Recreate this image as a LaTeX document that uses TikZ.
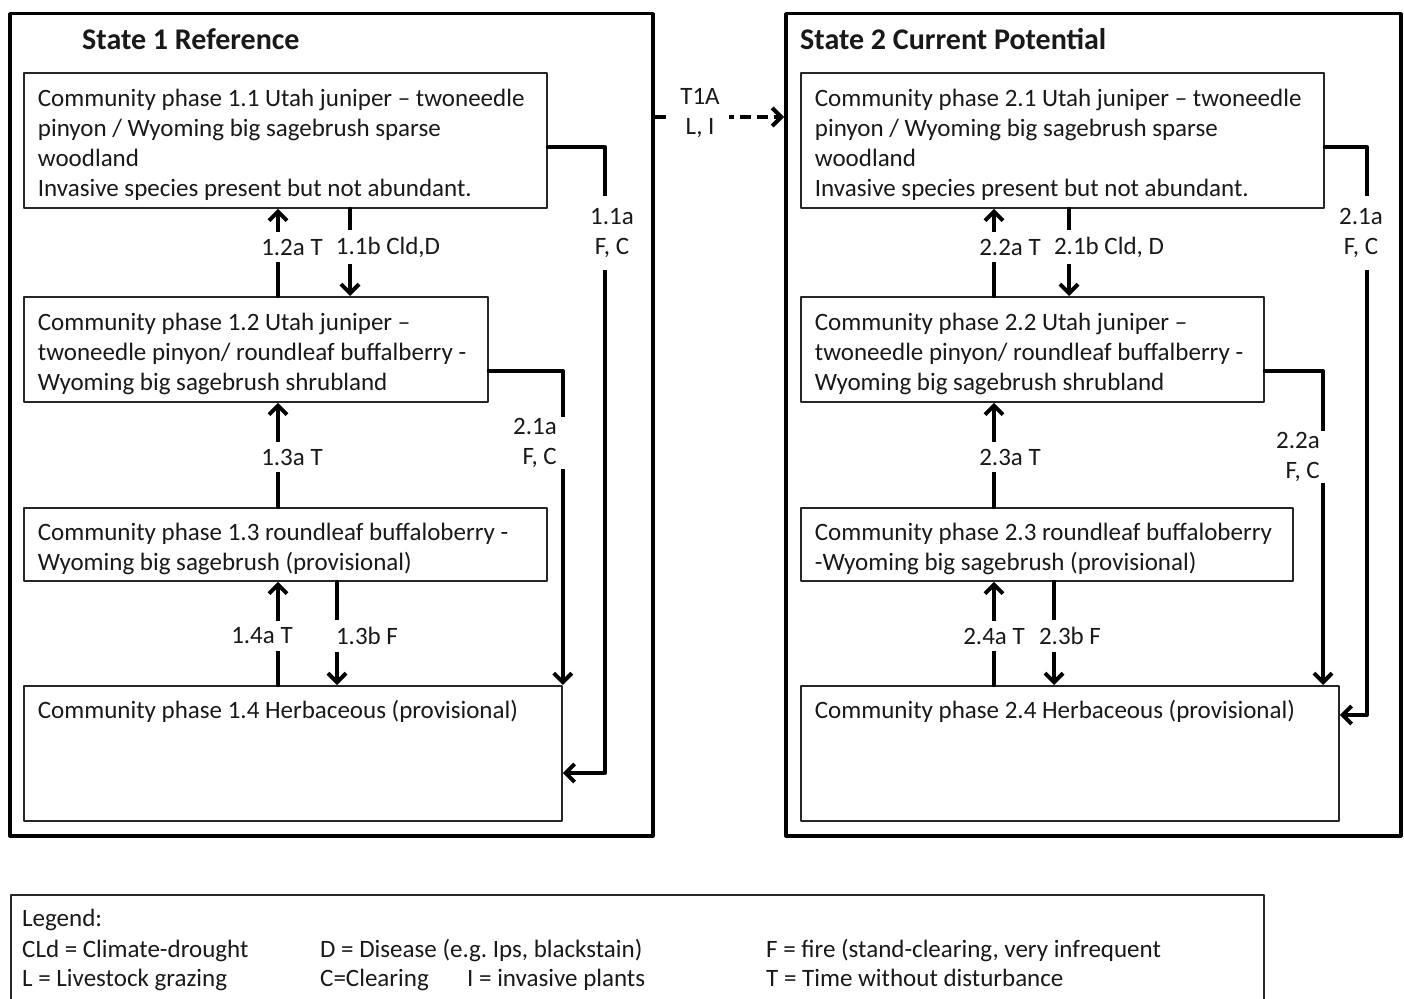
\documentclass[tikz,border=0pt]{standalone}
\usepackage{fontspec}
\setmainfont{Carlito}
\usetikzlibrary{arrows.meta}

\tikzset{
  phase/.style={draw=black!85, line width=1.8pt, anchor=north west, align=flush left,
    inner xsep=14pt, inner ysep=0pt, text=black!90, font=\fontsize{25}{30}\selectfont,
    execute at begin node=\rule{0pt}{26pt}},
  state/.style={draw, line width=3.5pt, anchor=north west, inner sep=0pt},
  title/.style={anchor=base west, inner sep=0pt, text=black!90, font=\fontsize{30}{36}\selectfont\bfseries},
  tr/.style={line width=4pt},
  lbl/.style={fill=white, inner xsep=2pt, inner ysep=7pt, align=center, text=black!90,
    font=\fontsize{25}{30}\selectfont},
  leg/.style={anchor=base west, inner sep=0pt, text=black!90, font=\fontsize{25}{30}\selectfont}
}

\begin{document}
\begin{tikzpicture}[line cap=round,line join=round,>={Straight Barb[length=9pt,width=18pt]},x=1pt,y=-1pt]
\clip (0,0) rectangle (1404,998);
\fill[white] (0,0) rectangle (1404,998);
% state frames
\node[state, minimum width=643pt, minimum height=822pt] (s1) at (8,12) {};
\node[state, minimum width=615pt, minimum height=822pt] (s2) at (784,12) {};
\node[title] (t1) at (82,50) {State 1 Reference};
\node[title] (t2) at (800,50) {State 2 Current Potential};
% state 1 phases
\node[phase, text width=495pt, minimum height=135pt] (p11) at (23,72) {Community phase 1.1 Utah juniper – twoneedle\\pinyon / Wyoming big sagebrush sparse\\woodland\\Invasive species present but not abundant.};
\node[phase, text width=436pt, minimum height=105pt] (p12) at (23,296) {Community phase 1.2 Utah juniper –\\twoneedle pinyon/ roundleaf buffalberry -\\Wyoming big sagebrush shrubland};
\node[phase, text width=495pt, minimum height=73pt] (p13) at (23,507) {Community phase 1.3 roundleaf buffaloberry -\\Wyoming big sagebrush (provisional)};
\node[phase, text width=510pt, minimum height=135pt] (p14) at (23,685) {Community phase 1.4 Herbaceous (provisional)\\[65pt]~};
% state 2 phases
\node[phase, text width=495pt, minimum height=135pt] (p21) at (800,72) {Community phase 2.1 Utah juniper – twoneedle\\pinyon / Wyoming big sagebrush sparse\\woodland\\Invasive species present but not abundant.};
\node[phase, text width=435pt, minimum height=105pt] (p22) at (800,296) {Community phase 2.2 Utah juniper –\\twoneedle pinyon/ roundleaf buffalberry -\\Wyoming big sagebrush shrubland};
\node[phase, text width=464pt, minimum height=73pt] (p23) at (800,507) {Community phase 2.3 roundleaf buffaloberry\\-Wyoming big sagebrush (provisional)};
\node[phase, text width=510pt, minimum height=135pt] (p24) at (800,685) {Community phase 2.4 Herbaceous (provisional)\\[65pt]~};
% transitions state 1
\draw[tr,->] (p12.north -| 278,0) -- (p11.south -| 278,0);
\draw[tr,->] (p11.south -| 350,0) -- (p12.north -| 350,0);
\draw[tr,->] (p13.north -| 278,0) -- (p12.south -| 278,0);
\draw[tr,->] (p14.north -| 278,0) -- (p13.south -| 278,0);
\draw[tr,->] (p13.south -| 337,0) -- (p14.north -| 337,0);
\draw[tr,->] (p11.east |- 0,147) -| (605,773) -- (p14.east |- 0,773);
\draw[tr,->] (p12.east |- 0,371) -| (p14.north east);
% transitions state 2
\draw[tr,->] (p22.north -| 994,0) -- (p21.south -| 994,0);
\draw[tr,->] (p21.south -| 1069,0) -- (p22.north -| 1069,0);
\draw[tr,->] (p23.north -| 994,0) -- (p22.south -| 994,0);
\draw[tr,->] (p24.north -| 994,0) -- (p23.south -| 994,0);
\draw[tr,->] (p23.south -| 1054,0) -- (p24.north -| 1054,0);
\draw[tr,->] (p21.east |- 0,147) -| (1367,715) -- (p24.east |- 0,715);
\draw[tr,->] (p22.east |- 0,371) -| (p24.north -| 1323,0);
% state transition
\draw[tr,->,line cap=butt,dash pattern=on 11pt off 6pt] (s1.east |- 0,117) -- (s2.west |- 0,117);
% labels
\node[lbl] (l12a) at (292,247) {1.2a T};
\node[lbl] (l11b) at (388,247) {1.1b Cld,D};
\node[lbl] (l13a) at (292,457) {1.3a T};
\node[lbl] (l14a) at (262,636) {1.4a T};
\node[lbl] (l13b) at (367,636) {1.3b F};
\node[lbl, inner ysep=12pt] (l11a) at (612,233) {1.1a\\F, C};
\node[lbl, align=right, anchor=east, inner xsep=9pt, inner ysep=1pt] (l21a) at (566,443) {2.1a\\F, C};
\node[lbl] (l22a) at (1010,247) {2.2a T};
\node[lbl] (l21b) at (1109,247) {2.1b Cld, D};
\node[lbl] (l23a) at (1010,457) {2.3a T};
\node[lbl] (l24a) at (994,636) {2.4a T};
\node[lbl] (l23b) at (1070,636) {2.3b F};
\node[lbl, inner ysep=12pt] (m21a) at (1361,233) {2.1a\\F, C};
\node[lbl, align=right, anchor=east, inner xsep=7pt, inner ysep=1pt] (m22a) at (1327,457) {2.2a\\F, C};
\node[lbl, inner xsep=9pt, inner ysep=1pt] (lt1a) at (700,113) {T1A\\L, I};
% legend
\node[draw=black!85, line width=1.8pt, anchor=north west, inner sep=0pt, minimum width=1253pt, minimum height=120pt] (leg) at (10,894) {};
\node[leg] (g0) at (22,926) {Legend:};
\node[leg] (g1) at (22,957) {CLd = Climate-drought};
\node[leg] (g2) at (320,957) {D = Disease (e.g.\ Ips, blackstain)};
\node[leg] (g3) at (766,957) {F = fire (stand-clearing, very infrequent};
\node[leg] (g4) at (22,986) {L = Livestock grazing};
\node[leg] (g5) at (320,986) {C=Clearing};
\node[leg] (g6) at (467,986) {I = invasive plants};
\node[leg] (g7) at (766,986) {T = Time without disturbance};
\end{tikzpicture}
\end{document}
